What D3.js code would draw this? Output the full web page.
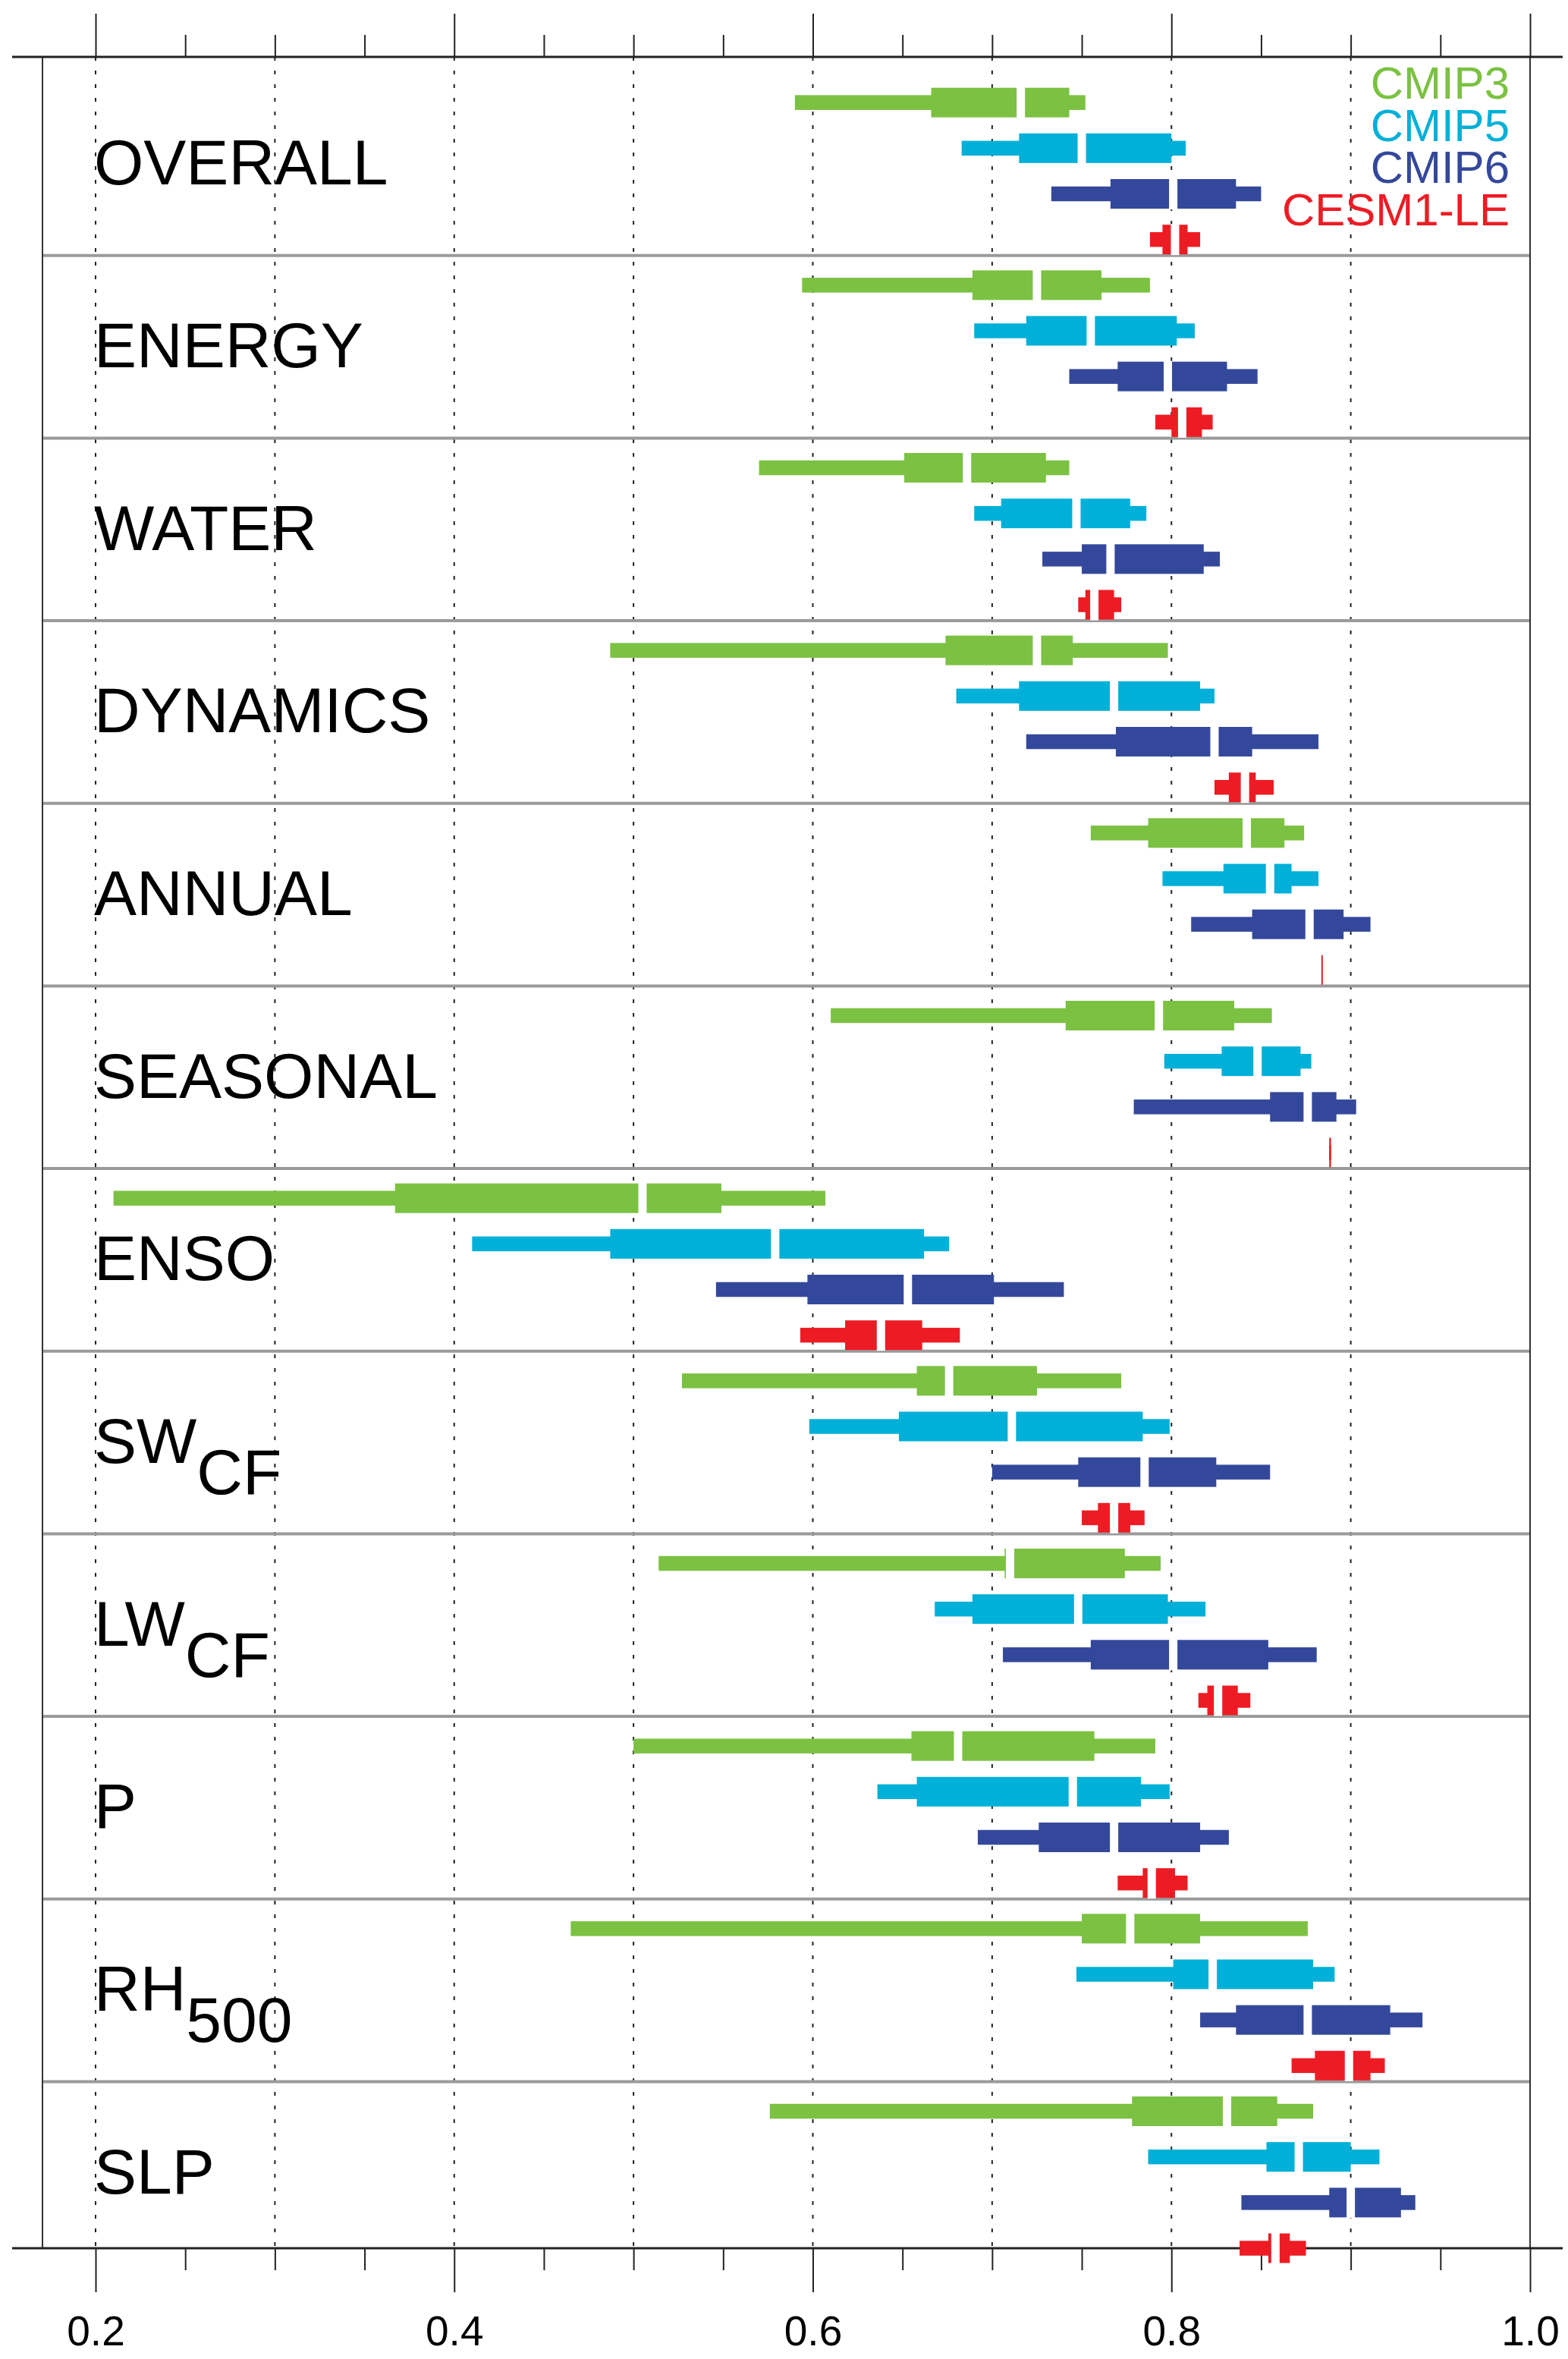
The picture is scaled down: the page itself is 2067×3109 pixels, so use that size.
<!DOCTYPE html>
<html>
<head>
<meta charset="utf-8">
<script src="https://cdn.jsdelivr.net/npm/d3@7"></script>
<style>
  body { margin: 0; background: #fff; }
  text { font-family: "Liberation Sans", Arial, Helvetica, sans-serif; }
</style>
</head>
<body>
<div id="chart"></div>
<script>
// Categories (main label + subscript)
var labelMain = ["OVERALL", "ENERGY", "WATER", "DYNAMICS", "ANNUAL", "SEASONAL", "ENSO", "SW", "LW", "P", "RH", "SLP"];
var labelSub = ["", "", "", "", "", "", "", "CF", "CF", "", "500", ""];

var seriesNames = ["CMIP3", "CMIP5", "CMIP6", "CESM1-LE"];
var seriesColors = ["#7bc142", "#00b0d8", "#34489b", "#ed1c24"];

// [min, 25th pct, median, 75th pct, max] for each category
var cmip3 = [
  [0.590, 0.666, 0.716, 0.743, 0.752],
  [0.594, 0.689, 0.725, 0.761, 0.788],
  [0.570, 0.651, 0.686, 0.730, 0.743],
  [0.487, 0.674, 0.725, 0.745, 0.798],
  [0.755, 0.787, 0.842, 0.863, 0.874],
  [0.610, 0.741, 0.793, 0.835, 0.856],
  [0.210, 0.367, 0.505, 0.549, 0.607],
  [0.527, 0.658, 0.676, 0.725, 0.772],
  [0.514, 0.707, 0.710, 0.774, 0.794],
  [0.500, 0.655, 0.681, 0.757, 0.791],
  [0.465, 0.750, 0.777, 0.816, 0.876],
  [0.576, 0.778, 0.831, 0.859, 0.879]
];
var cmip5 = [
  [0.683, 0.715, 0.750, 0.800, 0.808],
  [0.690, 0.719, 0.755, 0.803, 0.813],
  [0.690, 0.705, 0.747, 0.777, 0.786],
  [0.680, 0.715, 0.768, 0.816, 0.824],
  [0.795, 0.829, 0.855, 0.867, 0.882],
  [0.796, 0.828, 0.848, 0.872, 0.878],
  [0.410, 0.487, 0.579, 0.662, 0.676],
  [0.598, 0.648, 0.711, 0.784, 0.799],
  [0.668, 0.689, 0.748, 0.798, 0.819],
  [0.636, 0.658, 0.745, 0.783, 0.799],
  [0.747, 0.801, 0.823, 0.879, 0.891],
  [0.787, 0.853, 0.871, 0.900, 0.916]
];
var cmip6 = [
  [0.733, 0.766, 0.801, 0.836, 0.850],
  [0.743, 0.770, 0.798, 0.831, 0.848],
  [0.728, 0.750, 0.766, 0.818, 0.827],
  [0.719, 0.769, 0.824, 0.845, 0.882],
  [0.811, 0.845, 0.877, 0.896, 0.911],
  [0.779, 0.855, 0.876, 0.892, 0.903],
  [0.546, 0.597, 0.653, 0.701, 0.740],
  [0.700, 0.748, 0.785, 0.825, 0.855],
  [0.706, 0.755, 0.801, 0.854, 0.881],
  [0.692, 0.726, 0.768, 0.816, 0.832],
  [0.816, 0.836, 0.876, 0.922, 0.940],
  [0.839, 0.888, 0.900, 0.928, 0.936]
];
var cesm = [
  [0.788, 0.795, 0.802, 0.809, 0.816],
  [0.791, 0.800, 0.806, 0.817, 0.823],
  [0.748, 0.752, 0.757, 0.768, 0.772],
  [0.824, 0.832, 0.841, 0.847, 0.857],
  [0.884, 0.884, 0.884, 0.884, 0.884],
  [0.888, 0.888, 0.888, 0.889, 0.889],
  [0.593, 0.618, 0.638, 0.661, 0.682],
  [0.750, 0.759, 0.768, 0.777, 0.785],
  [0.815, 0.820, 0.826, 0.837, 0.844],
  [0.770, 0.784, 0.789, 0.802, 0.809],
  [0.867, 0.880, 0.899, 0.911, 0.919],
  [0.838, 0.854, 0.858, 0.866, 0.875]
];

var xTicksMajor = [0.2, 0.4, 0.6, 0.8, 1.0];
var xTicksMinor = [0.25, 0.3, 0.35, 0.45, 0.5, 0.55, 0.65, 0.7, 0.75, 0.85, 0.9, 0.95];
var gridValues = [0.2, 0.3, 0.4, 0.5, 0.6, 0.7, 0.8, 0.9];

// SVG settings
var svgWidth = 2067;
var svgHeight = 3109;

var svg = d3.select("#chart")
  .append("svg")
  .attr("width", svgWidth)
  .attr("height", svgHeight)
  .style("background", "#fff");

// x: correlation, y: row index (4 rows per category)
var xScale = d3.scaleLinear().domain([0.2, 1.0]).range([126, 2017]);
var yScale = d3.scaleLinear().domain([-1, 47]).range([75, 2963]);
var plotTop = yScale(-1);
var plotBottom = yScale(47);
var frameLeft = 56;

var allSeries = [cmip3, cmip5, cmip6, cesm];
var rows = [];
labelMain.forEach((lab, k) => {
  allSeries.forEach((s, j) => {
    var v = s[k];
    rows.push({ row: 4 * k + j, color: seriesColors[j], min: v[0], q1: v[1], med: v[2], q3: v[3], max: v[4] });
  });
});

// dotted gridlines
svg.append("g").selectAll("line")
  .data(gridValues)
  .join("line")
  .attr("x1", d => xScale(d))
  .attr("x2", d => xScale(d))
  .attr("y1", plotTop)
  .attr("y2", plotBottom)
  .attr("stroke", "#222")
  .attr("stroke-width", 2)
  .attr("stroke-dasharray", "5,13");

// group separators
var seps = d3.range(labelMain.length - 1);
svg.append("g").selectAll("line")
  .data(seps)
  .join("line")
  .attr("x1", frameLeft)
  .attr("x2", xScale(1.0))
  .attr("y1", k => yScale(4 * k + 3.35))
  .attr("y2", k => yScale(4 * k + 3.35))
  .attr("stroke", "#9a9a9a")
  .attr("stroke-width", 4);

// left and right frame lines
svg.append("line")
  .attr("x1", frameLeft).attr("x2", frameLeft)
  .attr("y1", plotTop).attr("y2", plotBottom)
  .attr("stroke", "#333").attr("stroke-width", 2);
svg.append("line")
  .attr("x1", xScale(1.0)).attr("x2", xScale(1.0))
  .attr("y1", plotTop).attr("y2", plotBottom)
  .attr("stroke", "#333").attr("stroke-width", 2);

// axes
function styleAxis(g) {
  g.select(".domain").remove();
  g.selectAll(".tick line").attr("stroke", "#222").attr("stroke-width", 2);
}
svg.append("g")
  .attr("transform", `translate(0, ${plotTop})`)
  .call(d3.axisTop(xScale).tickValues(xTicksMinor).tickSize(29).tickFormat(""))
  .call(styleAxis);
svg.append("g")
  .attr("transform", `translate(0, ${plotTop})`)
  .call(d3.axisTop(xScale).tickValues(xTicksMajor).tickSize(57).tickFormat(""))
  .call(styleAxis);
svg.append("g")
  .attr("transform", `translate(0, ${plotBottom})`)
  .call(d3.axisBottom(xScale).tickValues(xTicksMinor).tickSize(29).tickFormat(""))
  .call(styleAxis);
var bottomAxis = svg.append("g")
  .attr("transform", `translate(0, ${plotBottom})`)
  .call(d3.axisBottom(xScale).tickValues(xTicksMajor).tickSize(58).tickPadding(31).tickFormat(d3.format(".1f")))
  .call(styleAxis);
bottomAxis.attr("font-size", 55)
  .attr("font-family", "'Liberation Sans', Arial, Helvetica, sans-serif");
bottomAxis.selectAll("text").attr("fill", "#000");

[plotTop, plotBottom].forEach(yy => {
  svg.append("line")
    .attr("x1", 16).attr("x2", 2060)
    .attr("y1", yy).attr("y2", yy)
    .attr("stroke", "#222").attr("stroke-width", 3);
});

// bars
var thinH = 19.5, thickH = 39, gapW = 11;
var barGroup = svg.append("g");

barGroup.selectAll("rect.whisker")
  .data(rows)
  .join("rect")
  .attr("class", "whisker")
  .attr("x", d => xScale(d.min))
  .attr("y", d => yScale(d.row) - thinH / 2)
  .attr("width", d => xScale(d.max) - xScale(d.min))
  .attr("height", thinH)
  .attr("fill", d => d.color);

barGroup.selectAll("rect.box")
  .data(rows)
  .join("rect")
  .attr("class", "box")
  .attr("x", d => xScale(d.q1) - (xScale(d.q3) - xScale(d.q1) < 2 ? 1 : 0))
  .attr("y", d => yScale(d.row) - thickH / 2)
  .attr("width", d => Math.max(xScale(d.q3) - xScale(d.q1), 2))
  .attr("height", thickH)
  .attr("fill", d => d.color);

barGroup.selectAll("rect.median")
  .data(rows.filter(d => xScale(d.q3) - xScale(d.q1) > 14))
  .join("rect")
  .attr("class", "median")
  .attr("x", d => xScale(d.med) - gapW / 2)
  .attr("y", d => yScale(d.row) - thickH / 2 - 1)
  .attr("width", gapW)
  .attr("height", thickH + 2)
  .attr("fill", "#fff");

// category labels
var labels = svg.append("g").selectAll("text")
  .data(labelMain)
  .join("text")
  .attr("x", xScale(0.2) - 2)
  .attr("y", (d, k) => yScale(4 * k + 1.5) + 18)
  .attr("font-size", 84)
  .attr("fill", "#000");
labels.append("tspan").text(d => d);
labels.append("tspan")
  .attr("dy", 41)
  .text((d, k) => labelSub[k]);

// legend
svg.append("g").selectAll("text")
  .data(seriesNames)
  .join("text")
  .attr("x", 1990)
  .attr("y", (d, i) => 130 + i * 55.6)
  .attr("text-anchor", "end")
  .attr("font-size", 60)
  .attr("fill", (d, i) => seriesColors[i])
  .text(d => d);
</script>
</body>
</html>
